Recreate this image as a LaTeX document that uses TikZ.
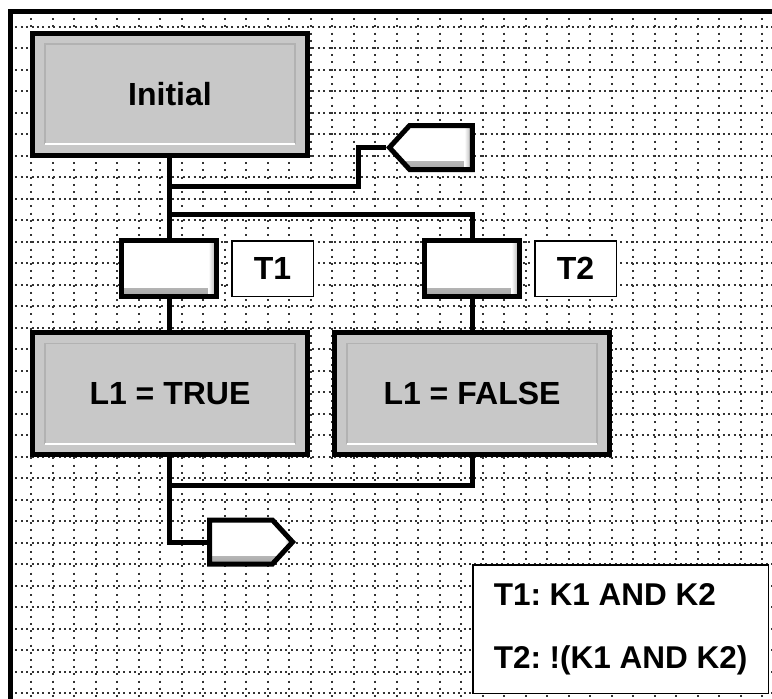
\documentclass[tikz,border=0pt]{standalone}
\usepackage{fontspec}
\setmainfont{Liberation Sans}
\usetikzlibrary{positioning,shapes.symbols,calc}
\definecolor{stepgray}{HTML}{C8C8C8}
\definecolor{dotgray}{HTML}{333333}
\newcommand{\boxfont}{\fontsize{32}{38}\selectfont\bfseries}

\begin{document}
\begin{tikzpicture}[x=1pt,y=-1pt, every node/.style={font=\boxfont,align=center},
  wire/.style={line width=5pt,black},
  gridv/.style={dotgray,line width=2pt,dash pattern=on 2pt off 5.2pt},
  gridh/.style={dotgray,line width=2pt,dash pattern=on 2pt off 3.4pt},
  stepbox/.style={draw,line width=5pt,fill=stepgray,minimum width=275pt,minimum height=122pt,
    path picture={
      \draw[line width=1.5pt,black!30] ([shift={(12.5pt,11pt)}]path picture bounding box.south west)
        |- ([shift={(-12.5pt,-11pt)}]path picture bounding box.north east) -- ([shift={(-12.5pt,11pt)}]path picture bounding box.south east);
      \draw[line width=2pt,white] ([shift={(12.5pt,11pt)}]path picture bounding box.south west)
        -- ([shift={(-12.5pt,11pt)}]path picture bounding box.south east);
    }},
  bevel/.style={path picture={
      \shade[top color=white,bottom color=black!35] (path picture bounding box.south west)
        rectangle ([yshift=8pt]path picture bounding box.south east);
      \shade[left color=white,right color=black!35] ([xshift=-8pt]path picture bounding box.south east)
        rectangle (path picture bounding box.north east);
    }},
  transbox/.style={draw,line width=5pt,fill=white,minimum width=95pt,minimum height=56pt,bevel},
  tlabel/.style={draw,line width=1.5pt,fill=white,minimum width=81.5pt,minimum height=55.5pt},
  jumpbox/.style={signal,draw,line width=5pt,fill=white,signal pointer angle=95,
    minimum width=83pt,minimum height=44pt,inner sep=0pt,bevel},
  legendbox/.style={draw,line width=1.5pt,fill=white,minimum height=128.5pt,
    inner xsep=21pt,align=left,font=\fontsize{31.5}{63}\selectfont\bfseries\frenchspacing}]
\useasboundingbox (0,0) rectangle (772,699);

% dotted grid and frame
\fill[white] (10,11) rectangle (772,699);
\foreach \gx in {0,...,34} \draw[gridv] ({31+21.5*\gx},11) -- ({31+21.5*\gx},699);
\foreach \gy in {0,...,31} \draw[gridh] (10,{26.5+21.5*\gy}) -- (772,{26.5+21.5*\gy});
\draw[line width=5pt] (10,699) -- (10,11) -- (772,11);

% steps and transitions
\node[stepbox] (init) at (170,94) {Initial};
\node[transbox] (t1) at (169,268.5) {};
\node[transbox] (t2) at (472,268.5) {};
\node[tlabel,right=12pt of t1] (lab1) {T1};
\node[tlabel,right=12pt of t2] (lab2) {T2};
\node[stepbox] (true) at (170,393.5) {L1 = TRUE};
\node[stepbox] (false) at (472,393.5) {L1 = FALSE};
\node[jumpbox,signal to=west] (jmpA) at (441,147.5) {};
\node[jumpbox,signal to=east] (jmpB) at (241,542) {};
\node[legendbox,anchor=west] (legend) at (472,629) {T1: K1 AND K2\\T2: !(K1 AND K2)};

\coordinate (b1) at (169,186);
\coordinate (b2) at (169,214);
\coordinate (m1) at (169,485);

% connectors
\draw[wire] (init.south -| t1) -- (t1.north);
\draw[wire] (b1) -| ([xshift=-28pt]jmpA.west) -- (jmpA.west);
\draw[wire] (b2) -| (t2.north);
\draw[wire] (t1.south) -- (true.north -| t1);
\draw[wire] (t2.south) -- (false.north -| t2);
\draw[wire] (true.south -| t1) |- (jmpB.west);
\draw[wire] (false.south -| t2) |- (m1);
\end{tikzpicture}
\end{document}
